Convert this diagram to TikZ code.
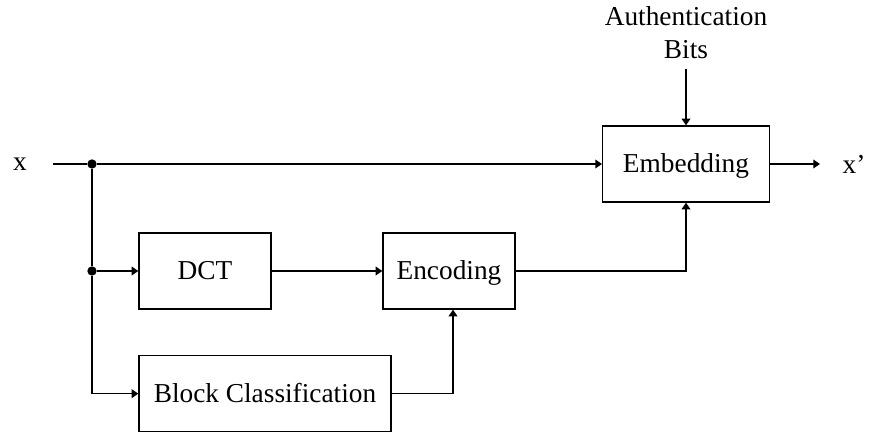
\documentclass[tikz,border=0pt]{standalone}
\usepackage{fontspec}
\setmainfont{Liberation Serif}
\usetikzlibrary{positioning,arrows.meta,calc}
\tikzset{
    block/.style = {draw, rectangle, inner sep=0pt,
        minimum height=57pt, text height=13.5pt, text depth=0pt,
        minimum width=99pt, align=center},
    signal/.style = {inner sep=3.3pt},
    dot/.style = {circle, fill, inner sep=0pt, minimum size=7pt},
    arrow/.style = {draw, -{Triangle[length=5pt,width=6.5pt]}}
}

\begin{document}
\begin{tikzpicture}[x=0.75pt, y=-0.75pt, line width=1pt,
    font=\fontsize{20.5}{24.75}\selectfont]
        \useasboundingbox (0,0) rectangle (871,434);
        \node [signal] (input) at (20,164) {x};
        \node [dot] (split) at (92,164) {};
        \node [block, minimum width=125pt] (emb) at (686,164) {Embedding};
        \node [block] (dct) at (205,271) {DCT};
        \node [block, right of=dct, node distance=183pt] (enc) {Encoding};
        \node [block, minimum width=189pt, below=34pt of dct.south west, anchor=north west] (bc) {Block Classification};
        \node [align=center, inner sep=7.5pt, above=42pt of emb] (auth) {Authentication\\Bits};
        \node [signal, right=50.7pt of emb] (out) {x’};
        \node [dot] (split2) at (split |- dct) {};
        \draw [shorten <=15.6pt] (input) -- (split);
        \draw [arrow] (split) -- (emb);
        \draw (split) -- (split2);
        \draw [arrow] (split2) -- (dct);
        \draw [arrow] (split2) |- (bc);
        \draw [arrow] (dct) -- (enc);
        \draw [arrow] (enc) -| (emb);
        \draw [arrow] (bc) -| ([xshift=3pt]enc.south);
        \draw [arrow] (auth) -- (emb);
        \draw [arrow, shorten >=13.2pt] (emb) -- (out);
    \end{tikzpicture}
\end{document}
